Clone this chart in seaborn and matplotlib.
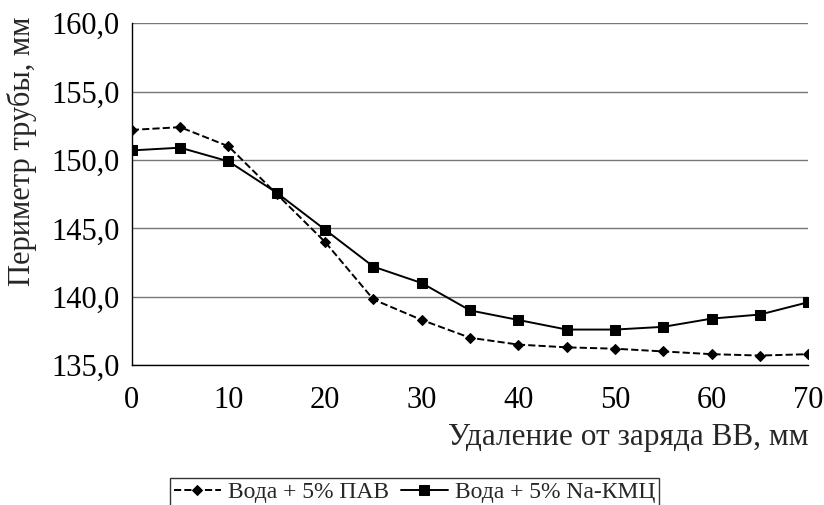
import numpy as np
import pandas as pd
import matplotlib
matplotlib.use("Agg")
import matplotlib.pyplot as plt
import seaborn as sns

# distance from charge, mm
distance = [0, 5, 10, 15, 20, 25, 30, 35, 40, 45, 50, 55, 60, 65, 70]
# tube perimeter, mm
perim_pav = [152.2, 152.4, 151.0, 147.5, 144.0, 139.8, 138.3, 137.0,
             136.5, 136.3, 136.2, 136.0, 135.8, 135.7, 135.8]
perim_kmc = [150.7, 150.9, 149.9, 147.6, 144.9, 142.2, 141.0, 139.0,
             138.3, 137.6, 137.6, 137.8, 138.4, 138.7, 139.6]
series_names = ["Вода + 5% ПАВ", "Вода + 5% Na-КМЦ"]
y_ticks = [135, 140, 145, 150, 155, 160]
x_ticks = [0, 10, 20, 30, 40, 50, 60, 70]

sns.set_style("white")
plt.rcParams['font.family'] = ['Liberation Serif', 'DejaVu Serif']

fig = plt.figure(figsize=(8.24, 5.05), dpi=100)
ax = fig.add_axes([0.160, 0.277, 0.821, 0.677])

# dashed line with diamonds
sns.lineplot(x=distance, y=perim_pav, ax=ax, color='black', linestyle='--',
             linewidth=1.4, marker='D', markersize=5, markeredgecolor='black',
             label=series_names[0], dashes=(5, 3))
# solid line with squares
sns.lineplot(x=distance, y=perim_kmc, ax=ax, color='black', linestyle='-',
             linewidth=1.4, marker='s', markersize=7, markeredgecolor='black',
             label=series_names[1])

ax.set_xlim(0, 70)
ax.set_ylim(135, 160)
ax.set_xticks(x_ticks)
ax.set_yticks(y_ticks)
ax.set_yticklabels([f"{v:.1f}".replace('.', ',') for v in y_ticks])
ax.tick_params(axis='both', labelsize=22, colors='black', direction='out')
ax.tick_params(axis='y', length=5, width=1, pad=4)
ax.tick_params(axis='x', length=9, width=1, pad=6)

ax.grid(axis='y', color='#777777', linewidth=1)
ax.grid(axis='x', visible=False)
for side in ['top', 'right']:
    ax.spines[side].set_visible(False)
for side in ['left', 'bottom']:
    ax.spines[side].set_color('black')
    ax.spines[side].set_linewidth(1)

ax.set_xlabel("Удаление от заряда ВВ, мм", fontsize=22.5, loc='right', labelpad=6)
ax.set_ylabel("Периметр трубы, мм", fontsize=22)
ax.yaxis.set_label_coords(-0.14, 0.625)

ax.legend_.remove()
handles, labels = ax.get_legend_handles_labels()
leg = fig.legend(handles, labels, loc='upper center', bbox_to_anchor=(0.503, 0.053),
                 ncol=2, fontsize=17, frameon=True, fancybox=False,
                 edgecolor='black', handlelength=2.0, handletextpad=0.3,
                 columnspacing=0.5, borderpad=0.15, borderaxespad=0)
leg.get_frame().set_linewidth(1)

fig.savefig("out.png", dpi=100)
